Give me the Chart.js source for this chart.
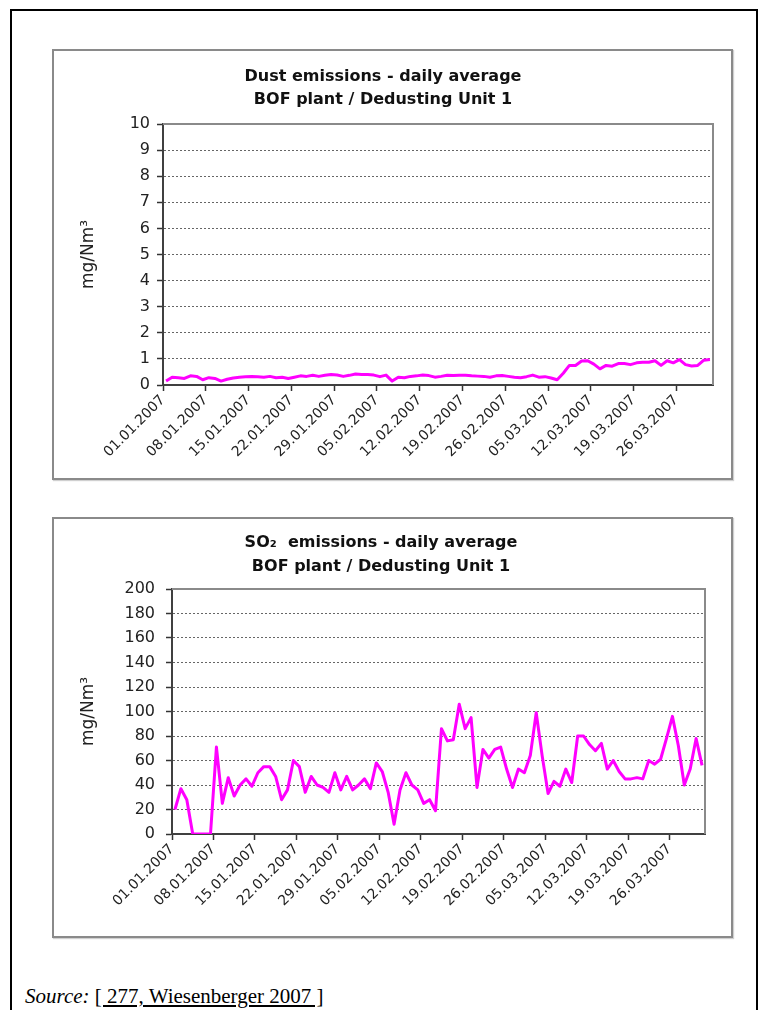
<!DOCTYPE html>
<html><head><meta charset="utf-8">
<script src="https://cdn.jsdelivr.net/npm/chart.js@4/dist/chart.umd.min.js"></script>
<style>
html,body{margin:0;padding:0;background:#fff;}
body{width:759px;height:1010px;position:relative;overflow:hidden;}
.frame{position:absolute;left:10px;top:9px;width:744px;height:1100px;border:2px solid #000;}
.panel{position:absolute;left:52px;width:677px;border:2px solid #8a8a8a;box-shadow:1px 1px 1px #d0d0d0;}
#p1{top:49px;height:427px;}
#p2{top:517px;height:417px;}
canvas{position:absolute;}
#c1{left:53px;top:50px;}
#c2{left:53px;top:518px;}
.src{position:absolute;left:25px;top:986px;font-family:'Liberation Serif','Times New Roman',serif;font-size:21px;line-height:21px;white-space:nowrap;color:#000;}
.src u{text-decoration:underline;}
</style>
</head>
<body>
<div class="frame"></div>
<div class="panel" id="p1"></div>
<div class="panel" id="p2"></div>
<canvas id="c1" width="679" height="430"></canvas>
<canvas id="c2" width="679" height="420"></canvas>
<div class="src"><i>Source:</i> <u>[ 277, Wiesenberger 2007 ]</u></div>
<script>
// x tick labels and their day positions (days from 01.01.2007)
const tickLabels = ['01.01.2007','08.01.2007','15.01.2007','22.01.2007','29.01.2007','05.02.2007','12.02.2007','19.02.2007','26.02.2007','05.03.2007','12.03.2007','19.03.2007','26.03.2007'];
const tickDays = [0,7,14,21,28,35,42,49,56,63,70,77,84];

// Dust daily averages (mg/Nm3), 01.01.2007 - 31.03.2007
const dustValues = [
  0.15,0.30,0.28,0.25,0.35,0.33,0.20,0.28,0.25,0.15,
  0.22,0.27,0.30,0.32,0.33,0.32,0.30,0.33,0.28,0.30,
  0.25,0.30,0.35,0.33,0.37,0.33,0.37,0.40,0.38,0.33,
  0.37,0.42,0.40,0.40,0.38,0.32,0.38,0.15,0.30,0.28,
  0.33,0.35,0.38,0.36,0.30,0.33,0.37,0.36,0.37,0.37,
  0.35,0.34,0.33,0.30,0.35,0.36,0.33,0.30,0.28,0.32,
  0.38,0.30,0.32,0.27,0.20,0.45,0.75,0.75,0.92,0.93,
  0.80,0.62,0.75,0.72,0.82,0.82,0.78,0.85,0.87,0.87,
  0.93,0.75,0.93,0.85,0.97,0.78,0.73,0.75,0.95,0.98
];

// SO2 daily averages (mg/Nm3), 01.01.2007 - 31.03.2007
const so2Values = [
  20,37,28,0,0,0,0,71,25,46,
  31,40,45,39,50,55,55,47,28,36,
  60,55,34,47,40,38,34,50,36,47,
  36,40,45,37,58,51,34,8,36,50,
  40,36,25,28,19,86,76,77,106,86,
  95,38,69,62,69,71,53,38,53,50,
  64,99,64,33,43,39,53,42,80,80,
  73,68,74,53,60,51,45,45,46,45,
  60,57,61,78,96,72,40,53,78,56
];

const dustTicks = [0,1,2,3,4,5,6,7,8,9,10];
const so2Ticks = [0,20,40,60,80,100,120,140,160,180,200];

const dustTitle = ['Dust emissions - daily average','BOF plant / Dedusting Unit 1'];
const so2Title = ['SO\u2082  emissions - daily average','BOF plant / Dedusting Unit 1'];
const yTitle = 'mg/Nm\u00B3';

const plotFrame = {
  id:'plotFrame',
  beforeDatasetsDraw(chart){
    const {ctx, chartArea:a} = chart;
    ctx.save();
    ctx.strokeStyle = '#8a8a8a';
    ctx.lineWidth = 2;
    ctx.beginPath();
    ctx.moveTo(a.left, a.top);
    ctx.lineTo(a.right, a.top);
    ctx.lineTo(a.right, a.bottom);
    ctx.stroke();
    ctx.restore();
  }
};

function build(id, values, yTicks, title, cfg){
  const pts = values.map((v,i)=>({x:i+0.5, y:v}));
  return new Chart(document.getElementById(id), {
    type:'line',
    data:{datasets:[{data:pts, borderColor:'#ff00ff', borderWidth:3, pointRadius:0, tension:0, fill:false, borderJoinStyle:'round'}]},
    plugins:[plotFrame],
    options:{
      responsive:false, animation:false, devicePixelRatio:1,
      layout:{padding:{left:cfg.padL, right:cfg.padR, top:0, bottom:0}},
      plugins:{
        legend:{display:false}, tooltip:{enabled:false},
        title:{display:true, text:title, color:'#111',
          font:{family:'DejaVu Sans', size:16, weight:'bold', lineHeight:cfg.titleLH+'px'},
          padding:{top:cfg.tPadT, bottom:cfg.tPadB}}
      },
      scales:{
        x:{type:'linear', min:0, max:values.length,
          afterBuildTicks:(s)=>{ s.ticks = tickDays.map(v=>({value:v})); },
          afterFit:(s)=>{ s.height = cfg.xH; },
          ticks:{autoSkip:false, minRotation:45, maxRotation:45, padding:1, color:'#222',
            font:{family:'DejaVu Sans', size:14},
            callback:(v)=>{ const k = tickDays.indexOf(v); return k>=0 ? tickLabels[k] : ''; }},
          grid:{drawOnChartArea:false, drawTicks:true, tickLength:6, tickColor:'#333', tickWidth:1.5},
          border:{display:true, color:'#404040', width:2}
        },
        y:{type:'linear', min:yTicks[0], max:yTicks[yTicks.length-1],
          afterBuildTicks:(s)=>{ s.ticks = yTicks.map(v=>({value:v})); },
          afterFit:(s)=>{ s.width = cfg.yW; },
          ticks:{padding:cfg.yPad, color:'#222', font:{family:'DejaVu Sans', size:16}, callback:(v)=>String(v)},
          grid:{color:'#666', lineWidth:1, drawTicks:true, tickLength:6, tickColor:'#333', tickWidth:1.5, tickBorderDash:[]},
          border:{display:true, color:'#404040', width:2, dash:[2,2]},
          title:{display:true, text:yTitle, color:'#222', font:{family:'DejaVu Sans', size:17}, padding:{top:cfg.yTitlePad, bottom:0}}
        }
      }
    }
  });
}

build('c1', dustValues, dustTicks, dustTitle,
  {padL:0, padR:19, yW:110, xH:95, titleLH:23, tPadT:15, tPadB:13, yPad:7, yTitlePad:25});
build('c2', so2Values, so2Ticks, so2Title,
  {padL:4, padR:27, yW:115, xH:104, titleLH:24, tPadT:13, tPadB:10, yPad:11, yTitlePad:21});
</script>
</body></html>
